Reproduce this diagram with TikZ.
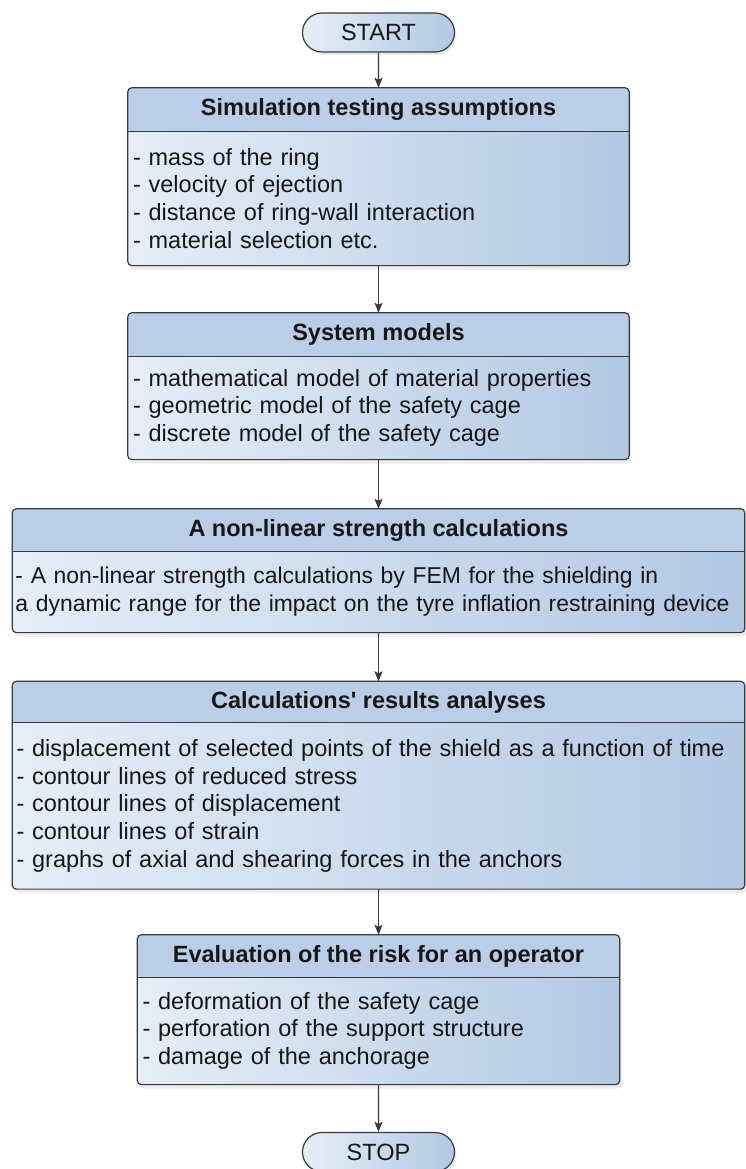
\documentclass[tikz,border=0pt]{standalone}
\usepackage{fontspec}
\setmainfont{Liberation Sans}[Ligatures=TeXOff]
\usetikzlibrary{positioning,shapes.misc,arrows.meta,shadows,backgrounds}
\definecolor{headblue}{HTML}{BACFE7}
\definecolor{lightblue}{HTML}{E6EEF7}
\definecolor{darkblue}{HTML}{B2C8E3}
\definecolor{edgegray}{HTML}{3A3A3A}
\definecolor{inkblack}{HTML}{161616}

\begin{document}
\begin{tikzpicture}[x=1pt, y=-1pt, text=inkblack, font=\fontsize{23.5}{27.8}\selectfont,
  term/.style={rounded rectangle, draw=edgegray, line width=1.2pt, left color=lightblue, right color=darkblue, minimum width=152pt, minimum height=39pt, inner sep=0pt, drop shadow={opacity=0.15, shadow xshift=2pt, shadow yshift=-3pt}},
  head/.style={minimum height=43pt, inner sep=0pt, font=\fontsize{23.5}{27.8}\selectfont\bfseries},
  body/.style={anchor=north, inner xsep=5pt, inner ysep=0pt, align=left},
  frame/.style={rounded corners=4pt, draw=edgegray, line width=1.2pt, left color=lightblue, right color=darkblue, drop shadow={opacity=0.15, shadow xshift=2pt, shadow yshift=-4pt}},
  flow/.style={draw=edgegray, line width=1.2pt, -{Stealth[length=10pt, width=8pt, inset=2pt]}}]
\useasboundingbox (0,0) rectangle (745,1169);

\node[term] (start) at (378.5,32.5) {START};

\node[head, minimum width=501pt] (h1) at (378.5,109.5) {Simulation testing assumptions};
\node[body, text width=491pt, minimum height=134pt] (b1) at (h1.south) {- mass of the ring\\- velocity of ejection\\- distance of ring-wall interaction\\- material selection etc.};

\node[head, minimum width=501pt] (h2) at (378.5,334.5) {System models};
\node[body, text width=491pt, minimum height=103pt] (b2) at (h2.south) {- mathematical model of material properties\\- geometric model of the safety cage\\- discrete model of the safety cage};

\node[head, minimum width=732pt, minimum height=42pt] (h3) at (378.5,530) {A non-linear strength calculations};
\node[body, text width=726pt, inner xsep=3pt, minimum height=81pt, font=\fontsize{22.9}{27.8}\selectfont] (b3) at (h3.south) {- A non-linear strength calculations by FEM for the shielding in\\\mbox{a dynamic range for the impact on the tyre inflation restraining device}};

\node[head, minimum width=732pt, minimum height=41pt] (h4) at (378.5,702) {Calculations' results analyses};
\node[body, text width=724pt, inner xsep=4pt, minimum height=166pt] (b4) at (h4.south) {- displacement of selected points of the shield as a function of time\\- contour lines of reduced stress\\- contour lines of displacement\\- contour lines of strain\\- graphs of axial and shearing forces in the anchors};

\node[head, minimum width=482pt, minimum height=42pt] (h5) at (378.5,956) {Evaluation of the risk for an operator};
\node[body, text width=472pt, minimum height=107pt] (b5) at (h5.south) {- deformation of the safety cage\\- perforation of the support structure\\- damage of the anchorage};

\node[term] (stop) at (378.5,1152) {STOP};

% boxes behind the text
\begin{scope}[on background layer]
\foreach \n in {1,...,5}
  \path[frame, path picture={\fill[headblue] (h\n.north west) rectangle (h\n.south east);}] (h\n.north west) rectangle (b\n.south east);
\end{scope}
\foreach \n in {1,...,5}
  \draw[edgegray, line width=1.2pt] (h\n.south west) -- (h\n.south east);

\path (start) edge[flow] (h1)
(b1) edge[flow] (h2)
(b2) edge[flow] (h3)
(b3) edge[flow] (h4)
(b4) edge[flow] (h5)
(b5) edge[flow] (stop);
\end{tikzpicture}
\end{document}
